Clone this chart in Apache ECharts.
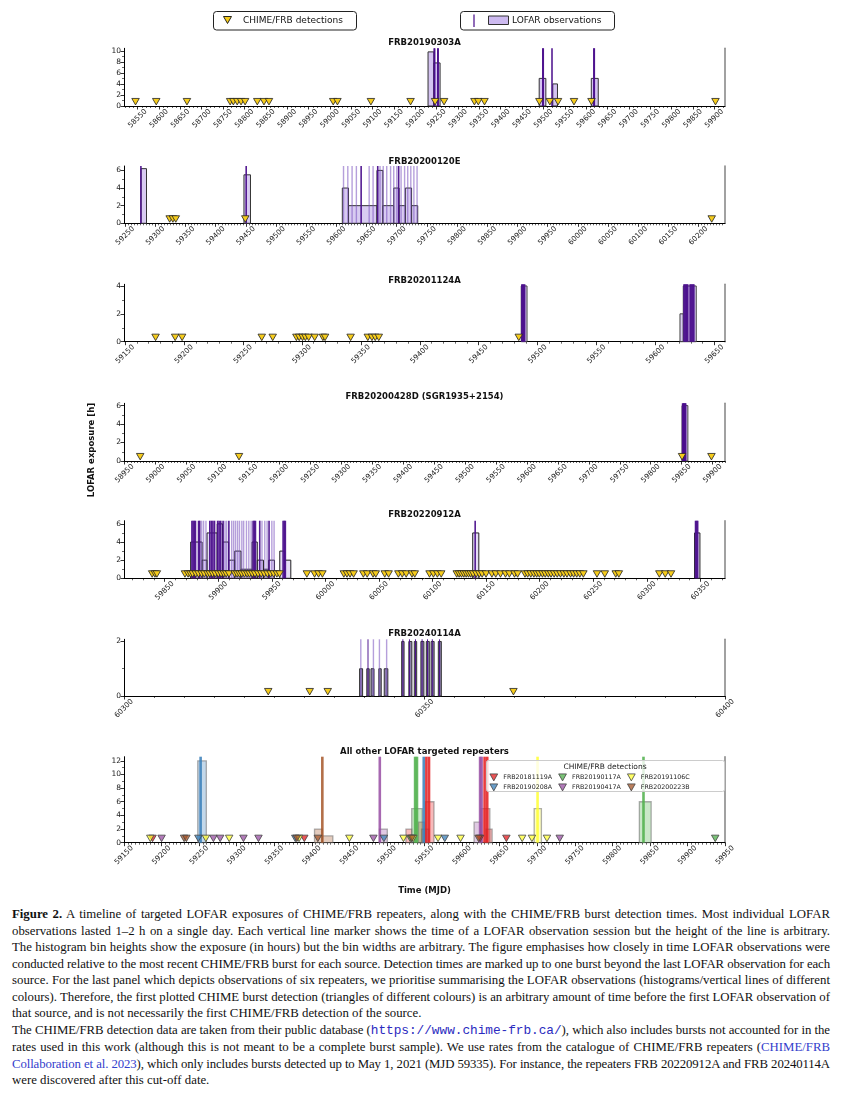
<!DOCTYPE html>
<html><head><meta charset="utf-8">
<script src="https://cdn.jsdelivr.net/npm/echarts@6/dist/echarts.min.js"></script>
<style>
html,body{margin:0;padding:0;background:#fff;width:846px;height:1094px;overflow:hidden}
#chart{position:absolute;left:0;top:0;width:846px;height:900px}
#cap{position:absolute;left:12px;top:906px;width:818px;font-family:"Liberation Serif",serif;font-size:12.8px;line-height:16.5px;color:#111}
#cap div{white-space:nowrap}
#cap div.j{text-align:justify;text-align-last:justify}
.mono{font-family:"Liberation Mono",monospace;color:#2a2ac0}
.lnk{color:#3340cc}
</style></head>
<body>
<div id="chart"></div>
<div id="cap">
<div class="ln"><b>Figure 2.</b> A timeline of targeted LOFAR exposures of CHIME/FRB repeaters, along with the CHIME/FRB burst detection times. Most individual LOFAR</div>
<div class="ln">observations lasted 1–2 h on a single day. Each vertical line marker shows the time of a LOFAR observation session but the height of the line is arbitrary.</div>
<div class="ln">The histogram bin heights show the exposure (in hours) but the bin widths are arbitrary. The figure emphasises how closely in time LOFAR observations were</div>
<div class="ln">conducted relative to the most recent CHIME/FRB burst for each source. Detection times are marked up to one burst beyond the last LOFAR observation for each</div>
<div class="ln">source. For the last panel which depicts observations of six repeaters, we prioritise summarising the LOFAR observations (histograms/vertical lines of different</div>
<div class="ln">colours). Therefore, the first plotted CHIME burst detection (triangles of different colours) is an arbitrary amount of time before the first LOFAR observation of</div>
<div class="end">that source, and is not necessarily the first CHIME/FRB detection of the source.</div>
<div class="ln">The CHIME/FRB detection data are taken from their public database (<span class="mono">https://www.chime-frb.ca/</span>), which also includes bursts not accounted for in the</div>
<div class="ln">rates used in this work (although this is not meant to be a complete burst sample). We use rates from the catalogue of CHIME/FRB repeaters (<span class="lnk">CHIME/FRB</span></div>
<div class="ln"><span class="lnk">Collaboration et al. 2023</span>), which only includes bursts detected up to May 1, 2021 (MJD 59335). For instance, the repeaters FRB 20220912A and FRB 20240114A</div>
<div class="end">were discovered after this cut-off date.</div>
</div>
<script>
// ---------------- DATA (MJD values) ----------------
const panelTitles = ['FRB20190303A','FRB20200120E','FRB20201124A','FRB20200428D (SGR1935+2154)','FRB20220912A','FRB20240114A','All other LOFAR targeted repeaters'];

// Panel 1: FRB20190303A
const p1Chime = [58545, 58593.5, 58665.4, 58766.5, 58774, 58783, 58792, 58801.5, 58830, 58845.7, 58857.4, 59007.8, 59017.7, 59096, 59188.9, 59246.3, 59267.3, 59338.4, 59347.5, 59362, 59490.4, 59515, 59534.1, 59571.5, 59612.4, 59902.7];
const p1Bars = [[59229.8, 59243.5, 9.8], [59243.5, 59258, 7.8], [59490, 59505.6, 5], [59521.8, 59532.8, 4], [59612, 59628.3, 5]];
const p1LinesStrong = [59244.3, 59245.3, 59252.6, 59253.4, 59498.5, 59499.5, 59520, 59618, 59619];
const p1LinesFaint = [];

// Panel 2: FRB20200120E
const p2Chime = [59323.7, 59329, 59333.8, 59449, 60222];
const p2Bars = [[59276.2, 59285.3, 6.2], [59446.8, 59457.6, 5.5], [59609.8, 59620.1, 4], [59620.1, 59667.2, 2], [59667.2, 59677, 6], [59677, 59695, 2], [59695, 59704, 4], [59704, 59714.3, 2], [59714.3, 59724.6, 4], [59724.6, 59734.8, 2]];
const p2LinesStrong = [59276, 59450.5, 59641, 59668.5, 59703.2];
const p2LinesFaint = [59611.8, 59618.9, 59626, 59633.1, 59654.3, 59660.8, 59672.3, 59677.6, 59683.4, 59689.8, 59695, 59700.1, 59707.2, 59713, 59718.2, 59723.3, 59728.4, 59733.7];

// Panel 3: FRB20201124A
const p3Chime = [59175.8, 59192.4, 59198.3, 59265.9, 59275.2, 59295.3, 59297.7, 59300.5, 59302.9, 59305.7, 59310.8, 59317.8, 59319.6, 59341.3, 59355.9, 59359.4, 59362.2, 59365.2, 59484];
const p3Bars = [[59486.1, 59491, 4], [59620.8, 59623.6, 2], [59623.6, 59634.6, 4]];
const p3LinesStrong = [59486.6, 59487.4, 59488.2, 59489, 59624.2, 59625, 59625.8, 59626.6, 59627.4, 59629.4, 59630.2, 59631, 59631.8, 59632.6];
const p3LinesFaint = [];

// Panel 4: FRB20200428D
const p4Chime = [58975.2, 59134.8, 59850.6, 59898.1];
const p4Bars = [[59850.6, 59860, 6]];
const p4LinesStrong = [59851.5, 59852.5, 59853.5, 59854.5, 59855.5, 59856.5];
const p4LinesFaint = [];

// Panel 5: FRB20220912A
const p5Chime = [59838.3, 59840.9, 59842.7, 59868.9, 59871.8, 59874, 59876.1, 59879, 59881.6, 59884.5, 59887, 59889.9, 59892.1, 59894.7, 59897.2, 59900.1, 59902.7, 59905.2, 59907.4, 59910, 59915.4, 59917.6, 59919.8, 59922, 59924.5, 59927, 59929.2, 59931.8, 59934.3, 59937.2, 59940.1, 59943, 59945.9, 59948.8, 59951.7, 59954.7, 59957.2, 59982.7, 59989.9, 59993.6, 59997.2, 60017.2, 60020.1, 60023, 60026.3, 60035.4, 60039, 60044.5, 60047, 60055.4, 60059, 60068.1, 60071.7, 60075.4, 60080.8, 60083.4, 60097.2, 60100.8, 60104.5, 60108.1, 60122.6, 60124.8, 60127, 60129.2, 60131.4, 60133.6, 60135.7, 60137.9, 60140.8, 60143.7, 60146.3, 60149.9, 60155.4, 60159, 60163.4, 60168.1, 60171.7, 60176.5, 60179.4, 60186.3, 60188.8, 60191.7, 60194.6, 60197.2, 60199.7, 60202.6, 60205.2, 60208.1, 60210.6, 60213.5, 60216.4, 60219.4, 60222.6, 60225.5, 60228.8, 60231.7, 60234.6, 60237.5, 60240.8, 60253.5, 60260.8, 60271, 60273.9, 60311.7, 60317.2, 60322.6];
const p5Bars = [[59874.2, 59884.9, 4], [59884.9, 59889.5, 2], [59889.5, 59899, 5], [59899, 59904, 6], [59904, 59909.7, 4], [59909.7, 59915.4, 2], [59915.4, 59921.2, 3], [59921.2, 59931.5, 1], [59931.5, 59936.4, 4], [59936.4, 59942.2, 2], [59942.2, 59947.1, 1], [59947.1, 59952.5, 2], [59957.4, 59962, 3], [59962, 59967.7, 2], [60137.5, 60143.2, 5], [60344.6, 60349.6, 5]];
const p5LinesStrong = [59875.4, 59876.5, 59877.6, 59878.7, 59881.6, 59882.7, 59892.1, 59893.6, 59895, 59896.5, 59899.4, 59900.8, 59902.3, 59904.5, 59909.9, 59932.5, 59933.6, 59934.7, 59938.7, 59947.4, 59960.5, 59961.6, 59962.6, 60139.8, 60345.5, 60346.5, 60347.5];
const p5LinesFaint = [59884.5, 59886.3, 59888.5, 59906.3, 59907.8, 59912.5, 59914.3, 59916.1, 59918, 59919.8, 59922, 59923.7, 59926.3, 59928.5, 59930.7, 59940.8, 59943.4, 59945.6, 59950, 59952.1];

// Panel 6: FRB20240114A
const p6Chime = [60324, 60330.9, 60333.9, 60364.8];
const p6Bars = [[60339.2, 60339.7, 1], [60340.4, 60340.8, 1], [60341.1, 60341.6, 1], [60342.4, 60342.8, 1], [60343.3, 60343.9, 1], [60346.2, 60346.6, 2], [60347.4, 60347.9, 2], [60348.3, 60348.7, 2], [60349.4, 60349.9, 2], [60350.3, 60350.8, 2], [60351.1, 60351.6, 2], [60352.3, 60352.8, 2]];
const p6LinesStrong = [60340.6, 60346.4, 60347.5, 60348.5, 60349.6, 60350.5, 60351.3, 60352.5];
const p6LinesFaint = [60339.4, 60341.5, 60342.5, 60343.7];

// Panel 7: all other repeaters
const p7Sources = ['FRB20181119A', 'FRB20190208A', 'FRB20190117A', 'FRB20190417A', 'FRB20191106C', 'FRB20200223B'];
const r181119Chime = [59188, 59390, 59624, 59659];
const r181119Bars = [[59525.3, 59533.1, 2], [59551.2, 59562.6, 6], [59625, 59637, 5], [59632, 59640, 2]];
const r181119Lines = [59552.5, 59556, 59630, 59633.5];
const r190208Chime = [59249, 59378, 59496, 59577];
const r190208Bars = [[59248.2, 59259.6, 12], [59546, 59556, 2]];
const r190208Lines = [59252, 59549];
const r190117Chime = [59531, 59937];
const r190117Bars = [[59533, 59547, 5], [59836, 59851.7, 6]];
const r190117Lines = [59537.5, 59540, 59841.5];
const r190417Chime = [59200, 59269, 59278, 59309, 59329, 59482, 59730];
const r190417Bars = [[59490, 59500.5, 2], [59616, 59625, 3]];
const r190417Lines = [59490.5, 59624, 59626];
const r191106Chime = [59185, 59259, 59290, 59383, 59450, 59522, 59535, 59568, 59598, 59680, 59693, 59713];
const r191106Bars = [[59696, 59705.6, 5]];
const r191106Lines = [59700.5];
const r200223Chime = [59230, 59233, 59380, 59408, 59533, 59622];
const r200223Bars = [[59403.6, 59414, 2], [59414, 59428, 1], [59542, 59550, 3]];
const r200223Lines = [59414];

// ---------------- LAYOUT / STYLE ----------------
const GL = 124, GW = 601;
const layout = [
  {top: 48.3, bottom: 106, xMin: 58518, xMax: 59925, yMax: 10.45, yMajor: [0,2,4,6,8,10], yMinor: [1,3,5,7,9], minorStep: 10, titleY: 42.7},
  {top: 166, bottom: 223.3, xMin: 59248, xMax: 60244, yMax: 6.5, yMajor: [0,2,4,6], yMinor: [1,3,5], minorStep: 5, titleY: 161.7},
  {top: 284.3, bottom: 341.7, xMin: 59149, xMax: 59659, yMax: 4.12, yMajor: [0,2,4], yMinor: [1,3], minorStep: 10, titleY: 280.7},
  {top: 403.3, bottom: 461, xMin: 58949, xMax: 59920, yMax: 6.25, yMajor: [0,2,4,6], yMinor: [1,3,5], minorStep: 5, titleY: 396.7},
  {top: 520.7, bottom: 578.3, xMin: 59812, xMax: 60373, yMax: 6.35, yMajor: [0,2,4,6], yMinor: [1,3,5], minorStep: 10, titleY: 515},
  {top: 639.3, bottom: 696, xMin: 60300, xMax: 60400, yMax: 2.08, yMajor: [0,2], yMinor: [1], minorStep: 5, titleY: 633.3},
  {top: 756.7, bottom: 842.7, xMin: 59150, xMax: 59950, yMax: 12.6, yMajor: [0,2,4,6,8,10,12], yMinor: [1,3,5,7,9,11], minorStep: 5, titleY: 751.7}
];
const panelData = [
  {chime: p1Chime, bars: p1Bars, strong: p1LinesStrong, faint: p1LinesFaint},
  {chime: p2Chime, bars: p2Bars, strong: p2LinesStrong, faint: p2LinesFaint},
  {chime: p3Chime, bars: p3Bars, strong: p3LinesStrong, faint: p3LinesFaint},
  {chime: p4Chime, bars: p4Bars, strong: p4LinesStrong, faint: p4LinesFaint},
  {chime: p5Chime, bars: p5Bars, strong: p5LinesStrong, faint: p5LinesFaint},
  {chime: p6Chime, bars: p6Bars, strong: p6LinesStrong, faint: p6LinesFaint}
];
const p7Data = [
  {chime: r181119Chime, bars: r181119Bars, lines: r181119Lines},
  {chime: r190208Chime, bars: r190208Bars, lines: r190208Lines},
  {chime: r190117Chime, bars: r190117Bars, lines: r190117Lines},
  {chime: r190417Chime, bars: r190417Bars, lines: r190417Lines},
  {chime: r191106Chime, bars: r191106Bars, lines: r191106Lines},
  {chime: r200223Chime, bars: r200223Bars, lines: r200223Lines}
];
const set1 = {FRB20181119A: [228,26,28], FRB20190208A: [55,126,184], FRB20190117A: [77,175,74], FRB20190417A: [152,78,163], FRB20191106C: [255,255,51], FRB20200223B: [166,86,40]};
const rgba = (c, a) => 'rgba(' + c[0] + ',' + c[1] + ',' + c[2] + ',' + a + ')';
const FONT = 'DejaVu Sans';
const TRI = 'path://M0,0L10,0L5,9Z';
const GOLD = '#f6cc1c';
const DARK = 'rgba(75,15,140,0.95)';
const FAINT = 'rgba(120,80,190,0.55)';
const barStyles = [
  {fill: 'rgba(205,185,238,0.85)', stroke: '#333'},
  {fill: 'rgba(190,168,232,0.6)', stroke: '#333'},
  {fill: 'rgba(200,180,236,0.7)', stroke: '#444'},
  {fill: 'rgba(200,180,236,0.7)', stroke: '#444'},
  {fill: 'rgba(200,182,236,0.45)', stroke: '#222'},
  {fill: 'rgba(112,96,150,0.8)', stroke: '#333'}
];

function ticks(a, b, step) {
  const r = [];
  for (let v = Math.ceil(a / step) * step; v <= b + 1e-9; v += step) r.push(v);
  return r;
}

const grids = [], xAxes = [], yAxes = [], series = [];
layout.forEach((L, i) => {
  grids.push({left: GL, width: GW, top: L.top, height: L.bottom - L.top});
  const major = ticks(L.xMin, L.xMax, 50);
  const minor = ticks(L.xMin, L.xMax, L.minorStep).filter(v => major.indexOf(v) < 0);
  xAxes.push({
    type: 'value', gridIndex: i, min: L.xMin, max: L.xMax, position: 'bottom',
    axisLine: {show: true, onZero: false, lineStyle: {color: '#000', width: 1}},
    axisTick: {show: true, customValues: major, length: 3.5, lineStyle: {color: '#000', width: 0.8}},
    axisLabel: {show: true, customValues: major, rotate: 45, align: 'center', verticalAlign: 'middle', margin: 12.5,
      fontSize: 7.3, color: '#222', fontFamily: FONT, formatter: v => String(Math.round(v))},
    splitLine: {show: false},
    name: i === 6 ? 'Time (MJD)' : '', nameLocation: 'middle', nameGap: 44,
    nameTextStyle: {fontSize: 8.5, fontWeight: 'bold', fontFamily: FONT, color: '#111'}
  });
  xAxes.push({
    type: 'value', gridIndex: i, min: L.xMin, max: L.xMax, position: 'bottom',
    axisLine: {show: false, onZero: false},
    axisTick: {show: true, customValues: minor, length: 2, lineStyle: {color: '#000', width: 0.6}},
    axisLabel: {show: false}, splitLine: {show: false}
  });
  yAxes.push({
    type: 'value', gridIndex: i, min: 0, max: L.yMax, position: 'left',
    axisLine: {show: true, onZero: false, lineStyle: {color: '#000', width: 1}},
    axisTick: {show: true, customValues: L.yMajor, length: 3.5, lineStyle: {color: '#000', width: 0.8}},
    axisLabel: {show: true, customValues: L.yMajor, fontSize: 7.5, margin: 3, color: '#222', fontFamily: FONT, formatter: v => String(v)},
    splitLine: {show: false}
  });
  yAxes.push({
    type: 'value', gridIndex: i, min: 0, max: L.yMax, position: 'left',
    axisLine: {show: false, onZero: false},
    axisTick: {show: true, customValues: L.yMinor, length: 2, lineStyle: {color: '#000', width: 0.6}},
    axisLabel: {show: false}, splitLine: {show: false}
  });
  yAxes.push({
    type: 'value', gridIndex: i, min: 0, max: L.yMax, position: 'right',
    axisLine: {show: true, onZero: false, lineStyle: {color: '#8a8a8a', width: 1.6}},
    axisTick: {show: false}, axisLabel: {show: false}, splitLine: {show: false}
  });
});

function barRender(fill, stroke, lw) {
  return function (params, api) {
    const a = api.coord([api.value(0), api.value(2)]);
    const b = api.coord([api.value(1), 0]);
    return {type: 'rect', shape: {x: a[0], y: a[1], width: b[0] - a[0], height: b[1] - a[1]},
      style: {fill: fill, stroke: stroke, lineWidth: lw}};
  };
}
function lineRender(color, lw) {
  return function (params, api) {
    const p = api.coord([api.value(0), 0]);
    return {type: 'line', shape: {x1: p[0], y1: p[1], x2: p[0], y2: params.coordSys.y},
      style: {stroke: color, lineWidth: lw}};
  };
}
function barSeries(name, gi, data, fill, stroke, lw, z) {
  return {type: 'custom', name: name, xAxisIndex: 2 * gi, yAxisIndex: 3 * gi, z: z,
    dimensions: ['x0', 'x1', 'h'], encode: {x: [0, 1], y: 2},
    renderItem: barRender(fill, stroke, lw), data: data, silent: true};
}
function lineSeries(name, gi, data, color, lw, z) {
  return {type: 'custom', name: name, xAxisIndex: 2 * gi, yAxisIndex: 3 * gi, z: z,
    encode: {x: 0, y: 1}, renderItem: lineRender(color, lw), data: data.map(v => [v, 0]), silent: true};
}
function chimeSeries(name, gi, data, fill, border) {
  return {type: 'scatter', name: name, xAxisIndex: 2 * gi, yAxisIndex: 3 * gi, z: 6,
    symbol: TRI, symbolSize: [7.5, 6.5], symbolOffset: [0, -4.3],
    itemStyle: {color: fill, borderColor: border, borderWidth: 0.8, opacity: 1},
    data: data.map(v => [v, 0]), silent: true};
}

panelData.forEach((P, i) => {
  const st = barStyles[i];
  series.push(barSeries('LOFAR observations', i, P.bars, st.fill, st.stroke, 1, 2));
  series.push(lineSeries('lofar-faint', i, P.faint, FAINT, 1.4, 3));
  series.push(lineSeries('lofar-strong', i, P.strong, DARK, i === 5 ? 1 : 1.6, 4));
  series.push(chimeSeries('CHIME/FRB detections', i, P.chime, GOLD, '#222'));
});
p7Data.forEach((P, k) => {
  const c = set1[p7Sources[k]];
  series.push(barSeries(p7Sources[k] + ' LOFAR', 6, P.bars, rgba(c, 0.3), 'rgba(110,110,110,0.55)', 1.3, 2));
  series.push(lineSeries(p7Sources[k] + ' lines', 6, P.lines, rgba(c, 0.85), 2.6, 3));
});
p7Data.forEach((P, k) => {
  const c = set1[p7Sources[k]];
  series.push(chimeSeries(p7Sources[k], 6, P.chime, rgba(c, 0.75), '#444'));
});

const graphics = [];
layout.forEach((L, i) => {
  graphics.push({type: 'text', x: GL + GW / 2, y: L.titleY, z: 10,
    style: {text: panelTitles[i], align: 'center', verticalAlign: 'middle', fontSize: 8.5, fontWeight: 'bold', fontFamily: FONT, fill: '#111'}});
});
graphics.push({type: 'text', x: 92, y: 450, rotation: Math.PI / 2, z: 10,
  style: {text: 'LOFAR exposure [h]', align: 'center', verticalAlign: 'middle', fontSize: 8.5, fontWeight: 'bold', fontFamily: FONT, fill: '#111'}});
// top legend boxes
graphics.push({type: 'rect', z: 10, shape: {x: 213.5, y: 11.5, width: 143, height: 18.5, r: 3}, style: {fill: '#fff', stroke: '#222', lineWidth: 1}});
graphics.push({type: 'polygon', z: 11, shape: {points: [[223.5, 16.5], [231.5, 16.5], [227.5, 23.5]]}, style: {fill: GOLD, stroke: '#111', lineWidth: 0.9}});
graphics.push({type: 'text', z: 11, x: 243, y: 20.8, style: {text: 'CHIME/FRB detections', verticalAlign: 'middle', fontSize: 9, fontFamily: FONT, fill: '#111'}});
graphics.push({type: 'rect', z: 10, shape: {x: 460.5, y: 11.5, width: 154, height: 18.5, r: 3}, style: {fill: '#fff', stroke: '#222', lineWidth: 1}});
graphics.push({type: 'line', z: 11, shape: {x1: 474, y1: 14.5, x2: 474, y2: 27}, style: {stroke: DARK, lineWidth: 1.3}});
graphics.push({type: 'rect', z: 11, shape: {x: 488.5, y: 16, width: 20, height: 8.5}, style: {fill: 'rgba(200,178,238,0.9)', stroke: '#333', lineWidth: 1}});
graphics.push({type: 'text', z: 11, x: 512, y: 20.8, style: {text: 'LOFAR observations', verticalAlign: 'middle', fontSize: 9, fontFamily: FONT, fill: '#111'}});
// panel 7 legend frame and title
graphics.push({type: 'rect', z: 10, shape: {x: 486.5, y: 760.5, width: 238, height: 31, r: 2}, style: {fill: 'rgba(255,255,255,0.8)', stroke: '#cccccc', lineWidth: 1}});
graphics.push({type: 'text', z: 12, x: 605, y: 767, style: {text: 'CHIME/FRB detections', align: 'center', verticalAlign: 'middle', fontSize: 7.5, fontFamily: FONT, fill: '#222'}});

function p7Legend(names, top) {
  return {top: top, left: 489.5, padding: 0, itemWidth: 9, itemHeight: 7, itemGap: 6.3, z: 20,
    selectedMode: false, orient: 'horizontal',
    textStyle: {fontSize: 6.3, fontFamily: FONT, color: '#222', width: 62, overflow: 'truncate'},
    data: names.map(n => ({name: n, icon: TRI, itemStyle: {color: rgba(set1[n], 0.75), borderColor: '#444', borderWidth: 0.8}}))};
}

const chart = echarts.init(document.getElementById('chart'), null, {renderer: 'canvas'});
chart.setOption({
  animation: false,
  backgroundColor: '#fff',
  textStyle: {fontFamily: FONT},
  grid: grids, xAxis: xAxes, yAxis: yAxes, series: series,
  legend: [p7Legend(['FRB20181119A', 'FRB20190117A', 'FRB20191106C'], 773.5), p7Legend(['FRB20190208A', 'FRB20190417A', 'FRB20200223B'], 783.5)],
  graphic: graphics
});

// caption: fit each line to the column width and justify it
const CAPW = 818;
document.querySelectorAll('#cap div').forEach(d => {
  const w = d.scrollWidth;
  const n = d.textContent.length;
  if (w > CAPW) d.style.letterSpacing = (-(w - CAPW + 2) / n).toFixed(3) + 'px';
  if (d.classList.contains('ln')) d.classList.add('j');
});
</script>
</body></html>
